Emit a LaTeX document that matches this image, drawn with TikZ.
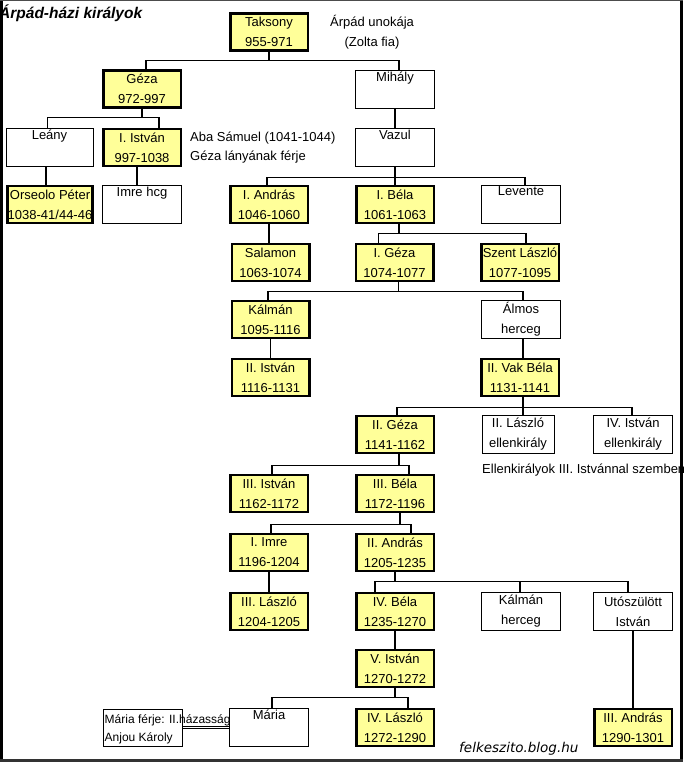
\documentclass[tikz,border=0pt]{standalone}
\usepackage{fontspec}
\setmainfont{Liberation Sans}
\newfontfamily\blogfont{DejaVu Sans}
\definecolor{kiralysarga}{RGB}{255,255,153}
\begin{document}
\begin{tikzpicture}[x=1pt,y=-1pt,
  kiraly/.style={draw,fill=kiralysarga,line width=2.5pt,minimum width=77.5pt,minimum height=37pt,inner sep=0pt,align=center,font=\fontsize{13}{20}\selectfont},
  feher/.style={draw,fill=white,line width=1pt,minimum width=79pt,minimum height=38.5pt,inner sep=0pt,align=center,font=\fontsize{13}{20}\selectfont},
  vonal/.style={line width=1.2pt},
  szoveg/.style={inner sep=0pt,font=\fontsize{13}{19.5}\selectfont}]
\useasboundingbox (0,0) rectangle (683,762);
\node[kiraly] (taksony) at (269,32) {Taksony\\955-971};
\node[kiraly] (geza) at (142,89) {Géza\\972-997};
\node[feher] (mihaly) at (395,89.5) {Mihály\\\strut};
\node[feher,minimum width=87pt] (leany) at (49.5,147.5) {Leány\\\strut};
\node[kiraly] (istvan1) at (142,147.5) {I. István\\997-1038};
\node[feher] (vazul) at (395,147.5) {Vazul\\\strut};
\node[kiraly,minimum width=84pt] (orseolo) at (50,204.5) {Orseolo Péter\\1038-41/44-46};
\node[feher] (imre) at (142,204.5) {Imre hcg\\\strut};
\node[kiraly] (andras1) at (269,204.5) {I. András\\1046-1060};
\node[kiraly] (bela1) at (395,204.5) {I. Béla\\1061-1063};
\node[feher] (levente) at (521,204.5) {Levente\\\strut};
\node[kiraly] (salamon) at (270.5,262.5) {Salamon\\1063-1074};
\node[kiraly] (geza1) at (394.5,262.5) {I. Géza\\1074-1077};
\node[kiraly] (laszlo1) at (520,262.5) {Szent László\\1077-1095};
\node[kiraly] (kalman) at (270.5,319.5) {Kálmán\\1095-1116};
\node[feher] (almos) at (521,319.5) {Álmos\\herceg};
\node[kiraly] (istvan2) at (270.5,377.5) {II. István\\1116-1131};
\node[kiraly] (bela2) at (520,377.5) {II. Vak Béla\\1131-1141};
\node[kiraly] (geza2) at (395,434.5) {II. Géza\\1141-1162};
\node[feher,minimum width=72pt] (laszlo2) at (518,434.5) {II. László\\ellenkirály};
\node[feher] (istvan4) at (633,434.5) {IV. István\\ellenkirály};
\node[kiraly] (istvan3) at (269,493.5) {III. István\\1162-1172};
\node[kiraly] (bela3) at (395,493.5) {III. Béla\\1172-1196};
\node[kiraly] (imre1) at (269,552.5) {I. Imre\\1196-1204};
\node[kiraly] (andras2) at (395,552.5) {II. András\\1205-1235};
\node[kiraly] (laszlo3) at (269,611.5) {III. László\\1204-1205};
\node[kiraly] (bela4) at (395,611.5) {IV. Béla\\1235-1270};
\node[feher] (kalmanh) at (521,611.5) {Kálmán\\herceg};
\node[feher] (utoszulott) at (633,611.5) {Utószülött\\István};
\node[kiraly] (istvan5) at (395,668.5) {V. István\\1270-1272};
\node[feher] (maria) at (269,727.5) {Mária\\\strut};
\node[kiraly] (laszlo4) at (395,727.5) {IV. László\\1272-1290};
\node[kiraly] (andras3) at (633,727.5) {III. András\\1290-1301};
\node[feher,minimum height=37pt] (ferj) at (143,727.5) {};
\draw[vonal] (taksony.south) -- ++(0,9) -| ([xshift=4pt]geza.north);
\draw[vonal] (taksony.south) -- ++(0,9) -| ([xshift=4pt]mihaly.north);
\draw[vonal] (geza.south) -- ++(0,9) -| ([xshift=-2pt]leany.north);
\draw[vonal] (geza.south) -- ++(0,9) -| ([xshift=17pt]istvan1.north);
\draw[vonal] ([xshift=-3.5pt]leany.south) -- ([xshift=-4pt]orseolo.north);
\draw[vonal] ([xshift=-5pt]istvan1.south) -- ([xshift=-5pt]imre.north);
\draw[vonal] (mihaly) -- (vazul);
\draw[vonal] (vazul.south) -- ++(0,10) -| ([xshift=-2pt]andras1.north);
\draw[vonal] (vazul.south) -- (bela1.north);
\draw[vonal] (vazul.south) -- ++(0,10) -| ([xshift=4pt]levente.north);
\draw[vonal] (andras1.south) -- (andras1.south |- salamon.north);
\draw[vonal] ([xshift=4pt]bela1.south) -- ++(0,9) -| ([xshift=-16pt]geza1.north);
\draw[vonal] ([xshift=4pt]bela1.south) -- ++(0,9) -| ([xshift=6pt]laszlo1.north);
\draw[vonal] ([xshift=4pt]geza1.south) -- ++(0,9) -| ([xshift=-2.5pt]kalman.north);
\draw[vonal] ([xshift=4pt]geza1.south) -- ++(0,9) -| ([xshift=2pt]almos.north);
\draw[vonal] (kalman.south) -- (kalman.south |- istvan2.north);
\draw[vonal] ([xshift=2pt]almos.south) -- ([xshift=2pt]almos.south |- bela2.north);
\draw[vonal] ([xshift=3pt]bela2.south) -- ++(0,10) -| ([xshift=2pt]geza2.north);
\draw[vonal] ([xshift=3pt]bela2.south) -- ++(0,10) -| ([xshift=-1pt]istvan4.north);
\draw[vonal] ([xshift=3pt]bela2.south) -- ([xshift=3pt]bela2.south |- laszlo2.north);
\draw[vonal] ([xshift=4pt]geza2.south) -- ++(0,11) -| ([xshift=3pt]istvan3.north);
\draw[vonal] ([xshift=4pt]geza2.south) -- ++(0,11) -| ([xshift=14pt]bela3.north);
\draw[vonal] ([xshift=5pt]bela3.south) -- ++(0,11) -| ([xshift=2pt]imre1.north);
\draw[vonal] ([xshift=5pt]bela3.south) -- ++(0,11) -| ([xshift=16pt]andras2.north);
\draw[vonal] (imre1.south) -- (laszlo3.north);
\draw[vonal] (andras2.south) -- ++(0,9) -| ([xshift=-20pt]bela4.north);
\draw[vonal] (andras2.south) -- ++(0,9) -| ([xshift=-1pt]kalmanh.north);
\draw[vonal] (andras2.south) -- ++(0,9) -| ([xshift=-5pt]utoszulott.north);
\draw[vonal] (bela4.south) -- (istvan5.north);
\draw[vonal] (istvan5.south) -- ++(0,9) -| ([xshift=3pt]maria.north);
\draw[vonal] (istvan5.south) -- ++(0,9) -| ([xshift=13pt]laszlo4.north);
\draw[vonal] (utoszulott.south) -- (andras3.north);
\draw[vonal,double,double distance=1.4pt,line width=0.9pt] (ferj.east) -- (maria.west);
\node[szoveg,align=center] (arpad) at (372,32) {Árpád unokája\\(Zolta fia)};
\node[szoveg,align=left,anchor=west] (aba) at (190,147.5) {Aba Sámuel (1041-1044)\\Géza lányának férje};
\node[szoveg,anchor=west] (ellen) at (482,470) {Ellenkirályok III. Istvánnal szemben};
\node[inner sep=0pt,align=left,anchor=west,font=\fontsize{12}{18}\selectfont] (ferjszoveg) at (104.5,729) {Mária férje: II.házasság\\Anjou Károly};
\node[inner sep=0pt,anchor=base west,font=\fontsize{15.5}{18}\selectfont\bfseries\itshape] (cim) at (-1,19) {Árpád-házi királyok};
\node[inner sep=0pt,anchor=base west,font=\blogfont\fontsize{13.5}{16}\selectfont\itshape] (blog) at (459,752) {felkeszito.blog.hu};
\draw[line width=2.5pt] (1.25,0) -- (1.25,762);
\draw[line width=3.5pt] (681.25,0) -- (681.25,762);
\draw[black!70,line width=1.5pt] (0,0.75) -- (683,0.75);
\draw[black!80,line width=3pt] (0,760.5) -- (683,760.5);
\end{tikzpicture}
\end{document}
